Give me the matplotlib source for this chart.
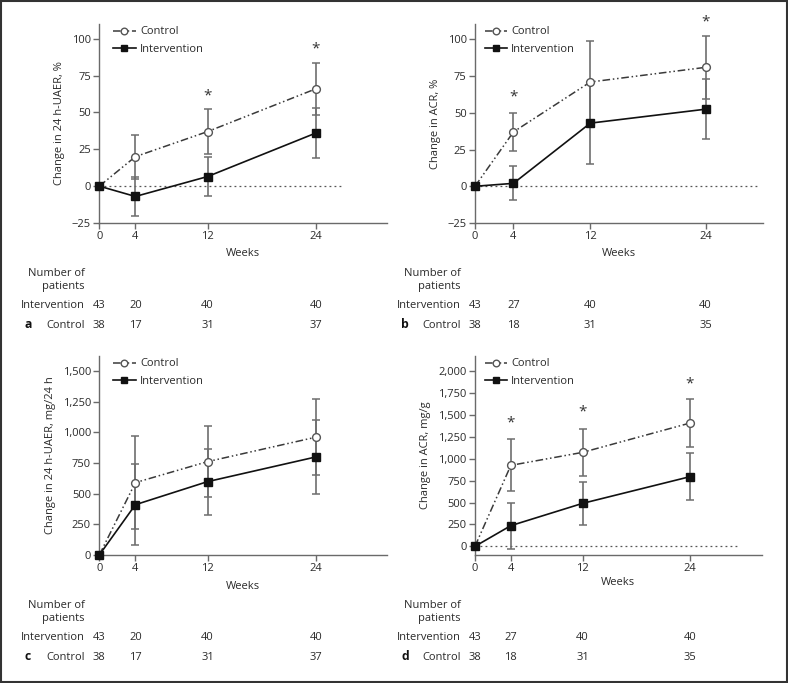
import matplotlib
matplotlib.use("Agg")
import matplotlib.pyplot as plt
from matplotlib import transforms
from matplotlib.ticker import FuncFormatter
from matplotlib.patches import Rectangle

plt.rcParams['font.family'] = ['Open Sans', 'DejaVu Sans']
plt.rcParams['font.size'] = 8

weeks = [0, 4, 12, 24]

# Panel a: change in 24 h-UAER, %
a_control = [0, 20, 37, 66]
a_control_err = [0, 15, 15, 17.5]
a_interv = [0, -7, 6.5, 36]
a_interv_err = [0, 13.5, 13.5, 17]
a_stars = [(12, 61), (24, 93)]

# Panel b: change in ACR, %
b_control = [0, 37, 71, 81]
b_control_err = [0, 12.7, 28, 21.5]
b_interv = [0, 2, 43, 52.5]
b_interv_err = [0, 11.6, 28, 20.6]
b_stars = [(4, 61), (24, 112)]

# Panel c: change in 24 h-UAER, mg/24 h
c_control = [0, 590, 761, 960]
c_control_err = [0, 378, 290, 310]
c_interv = [0, 410, 598, 799]
c_interv_err = [0, 328, 270, 300]
c_stars = []

# Panel d: change in ACR, mg/g
d_control = [0, 924, 1072, 1407]
d_control_err = [0, 297, 264, 278]
d_interv = [0, 236, 490, 795]
d_interv_err = [0, 262, 247, 268]
d_stars = [(4, 1403), (12, 1536), (24, 1852)]

n_interv_ac = [43, 20, 40, 40]
n_control_ac = [38, 17, 31, 37]
n_interv_bd = [43, 27, 40, 40]
n_control_bd = [38, 18, 31, 35]

W, H = 788, 683
fig = plt.figure(figsize=(W / 100, H / 100), dpi=100)

SPINE = '#6a6a6a'
ERR = '#6e6e6e'
FS = 8.0
TXT = '#2a2a2a'

panels = [
    dict(letter='a', rect=(99.3, 24, 387, 223), ctrl=a_control, ce=a_control_err,
         intv=a_interv, ie=a_interv_err, stars=a_stars, ylim=(-25, 110), xmax=31.9,
         yticks=[-25, 0, 25, 50, 75, 100], ylabel='Change in 24 h-UAER, %',
         zero_to=27, ni=n_interv_ac, nc=n_control_ac, comma=False, weeks_off=31,
         leg_dx=18),
    dict(letter='b', rect=(475, 24, 763.3, 223), ctrl=b_control, ce=b_control_err,
         intv=b_interv, ie=b_interv_err, stars=b_stars, ylim=(-25, 110.5), xmax=30,
         yticks=[-25, 0, 25, 50, 75, 100], ylabel='Change in ACR, %',
         zero_to=29.3, ni=n_interv_bd, nc=n_control_bd, comma=False, weeks_off=31,
         leg_dx=13.5),
    dict(letter='c', rect=(99.3, 356, 387, 555), ctrl=c_control, ce=c_control_err,
         intv=c_interv, ie=c_interv_err, stars=c_stars, ylim=(0, 1622), xmax=31.9,
         yticks=[0, 250, 500, 750, 1000, 1250, 1500], ylabel='Change in 24 h-UAER, mg/24 h',
         zero_to=None, ni=n_interv_ac, nc=n_control_ac, comma=True, weeks_off=31.5,
         leg_dx=18),
    dict(letter='d', rect=(475, 356, 761.7, 555), ctrl=d_control, ce=d_control_err,
         intv=d_interv, ie=d_interv_err, stars=d_stars, ylim=(-99, 2172), xmax=32,
         yticks=[0, 250, 500, 750, 1000, 1250, 1500, 1750, 2000], ylabel='Change in ACR, mg/g',
         zero_to=29.2, ni=n_interv_bd, nc=n_control_bd, comma=True, weeks_off=27.5,
         leg_dx=13.5),
]

for p in panels:
    x0, y0, x1, y1 = p['rect']
    w, h = x1 - x0, y1 - y0
    ax = fig.add_axes([x0 / W, 1 - y1 / H, w / W, h / H])
    ax.set_xlim(0, p['xmax'])
    ax.set_ylim(*p['ylim'])
    for s in ['top', 'right']:
        ax.spines[s].set_visible(False)
    for s in ['left', 'bottom']:
        ax.spines[s].set_color(SPINE)
        ax.spines[s].set_linewidth(1.0)
    ax.set_xticks(weeks)
    ax.set_yticks(p['yticks'])
    if p['comma']:
        ax.yaxis.set_major_formatter(FuncFormatter(lambda v, pos: f'{int(v):,}'))
    else:
        ax.yaxis.set_major_formatter(FuncFormatter(lambda v, pos: f'{int(v)}'.replace('-', '\u2212')))
    ax.tick_params(direction='out', length=4, width=1.0, color=SPINE, labelsize=FS,
                   labelcolor=TXT, pad=2)
    ax.set_ylabel(p['ylabel'], fontsize=FS, color=TXT, labelpad=5)

    if p['zero_to'] is not None:
        ax.plot([0, p['zero_to']], [0, 0], color='#555555', lw=0.9,
                linestyle=(0, (1.5, 2.5)), zorder=1)

    ax.errorbar(weeks, p['ctrl'], yerr=p['ce'], fmt='none', ecolor=ERR,
                elinewidth=1.2, capsize=3, capthick=1.1, zorder=2, clip_on=False)
    ax.errorbar(weeks, p['intv'], yerr=p['ie'], fmt='none', ecolor=ERR,
                elinewidth=1.2, capsize=3, capthick=1.1, zorder=2, clip_on=False)
    ax.plot(weeks, p['ctrl'], color='#3a3a3a', lw=1.1, linestyle=(0, (5, 1.8, 1, 1.8, 1, 1.8)),
            marker='o', markersize=5.6, markerfacecolor='white', markeredgecolor='#555555',
            markeredgewidth=1.0, label='Control', zorder=3, clip_on=False)
    ax.plot(weeks, p['intv'], color='#111111', lw=1.2, linestyle='-',
            marker='s', markersize=5.6, markerfacecolor='#111111', markeredgecolor='#111111',
            label='Intervention', zorder=4, clip_on=False)

    for (sx, sy) in p['stars']:
        ax.text(sx, sy, '*', ha='center', va='center', fontsize=11, color='#333333',
                clip_on=False)

    leg = ax.legend(loc='upper left', bbox_to_anchor=((p['leg_dx'] - 4) / w, 1.0 - 2.5 / h),
                    frameon=False, fontsize=FS, handlelength=2.0, handletextpad=0.4,
                    labelspacing=0.6, borderaxespad=0.0, borderpad=0.0, markerscale=0.85)
    for t in leg.get_texts():
        t.set_color(TXT)

    ax.text(0.5, -p['weeks_off'] / h, 'Weeks', transform=ax.transAxes, ha='center',
            va='center', fontsize=FS, color=TXT)

    # Number of patients table
    lab_x = -14.5 / w
    for off, txt in [(50, 'Number of'), (64, 'patients'), (83, 'Intervention'), (102, 'Control')]:
        ax.text(lab_x, -off / h, txt, transform=ax.transAxes, ha='right', va='center',
                fontsize=FS, color=TXT)
    letter_x = (28 if p['letter'] in 'ac' else 405) - x0
    ax.text(letter_x / w, -102 / h, p['letter'], transform=ax.transAxes,
            ha='center', va='center', fontsize=8.7, fontweight='bold', color='#111111')
    bt = transforms.blended_transform_factory(ax.transData, ax.transAxes)
    for wk, ni, nc in zip(weeks, p['ni'], p['nc']):
        ax.text(wk, -83 / h, str(ni), transform=bt, ha='center', va='center',
                fontsize=FS, color=TXT)
        ax.text(wk, -102 / h, str(nc), transform=bt, ha='center', va='center',
                fontsize=FS, color=TXT)

fig.patches.append(Rectangle((0.001, 0.001), 0.998, 0.997, transform=fig.transFigure,
                             fill=False, edgecolor='#333333', linewidth=1.5))

fig.savefig('out.png', dpi=100)
